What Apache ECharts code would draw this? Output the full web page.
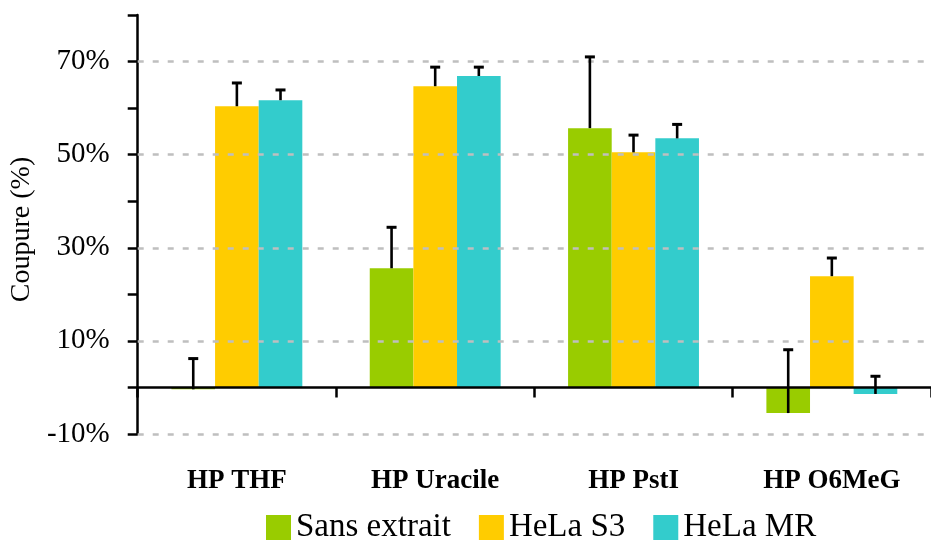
<!DOCTYPE html>
<html>
<head>
<meta charset="utf-8">
<script src="https://cdn.jsdelivr.net/npm/echarts@6/dist/echarts.min.js"></script>
<style>
html,body{margin:0;padding:0;background:#fff;}
#chart{width:931px;height:542px;}
</style>
</head>
<body>
<div id="chart"></div>
<script>
const categories = ['HP THF', 'HP Uracile', 'HP PstI', 'HP O6MeG'];
const seriesNames = ['Sans extrait', 'HeLa S3', 'HeLa MR'];
const sansExtrait = [-0.4, 25.6, 55.7, -5.5];
const helaS3 = [60.4, 64.7, 50.5, 23.9];
const helaMR = [61.7, 66.9, 53.5, -1.4];
const errSans = [6.6, 8.8, 15.3, 13.6];
const errS3 = [5.0, 4.1, 3.7, 3.9];
const errMR = [2.2, 1.9, 3.0, 3.8];
const gridValues = [-10, 10, 30, 50, 70];
const colors = ['#99cc00', '#ffcc00', '#33cccc'];

const FONT = '"Liberation Serif", "DejaVu Serif", serif';
const values = [sansExtrait, helaS3, helaMR];
const errors = [errSans, errS3, errMR];
const BAR_FRAC = 0.22;

function errRender(k) {
  return function (params, api) {
    const i = api.value(0), v = api.value(1), e = api.value(2);
    const band = api.size([1, 0])[0];
    const off = (k - 1) * band * BAR_FRAC;
    const p0 = api.coord([i, v]);
    const p1 = api.coord([i, v + e]);
    const x = p0[0] + off;
    const st = { stroke: '#000', lineWidth: 2.6 };
    return {
      type: 'group',
      children: [
        { type: 'line', shape: { x1: x, y1: p0[1], x2: x, y2: p1[1] }, style: st },
        { type: 'line', shape: { x1: x - 5, y1: p1[1], x2: x + 5, y2: p1[1] }, style: { stroke: '#000', lineWidth: 3 } }
      ]
    };
  };
}

const series = [];
// gridlines
series.push({
  type: 'line', data: [], z: 1, silent: true,
  markLine: {
    silent: true, symbol: ['none', 'none'], label: { show: false },
    lineStyle: { color: '#bfbfbf', type: [6, 9], width: 2.5 },
    data: gridValues.map(v => ({ yAxis: v }))
  }
});
values.forEach((arr, k) => {
  series.push({
    name: seriesNames[k], type: 'bar', xAxisIndex: 0, z: 2,
    barWidth: (BAR_FRAC * 100) + '%', barGap: '0%',
    itemStyle: { color: colors[k] },
    data: arr
  });
});
values.forEach((arr, k) => {
  series.push({
    name: seriesNames[k] + ' err', type: 'custom', xAxisIndex: 0, z: 5,
    renderItem: errRender(k),
    data: arr.map((v, i) => [i, v, errors[k][i]])
  });
});

const chart = echarts.init(document.getElementById('chart'));
chart.setOption({
  animation: false,
  grid: { left: 136, right: -5, top: 15, bottom: 108 },
  legend: {
    data: seriesNames, left: 266, top: 511, padding: 0,
    icon: 'rect', itemWidth: 25, itemHeight: 25, itemGap: 28,
    textStyle: { fontFamily: FONT, fontSize: 33, color: '#000' }
  },
  xAxis: [{
    type: 'category', data: categories, position: 'bottom', z: 3,
    axisLine: { onZero: true, lineStyle: { color: '#000', width: 2.5 } },
    axisTick: { show: true, length: 10, alignWithLabel: false, lineStyle: { color: '#000', width: 2.5 } },
    axisLabel: { show: false },
    splitLine: { show: false }
  }, {
    type: 'category', data: categories, position: 'bottom',
    axisLine: { show: false, onZero: false },
    axisTick: { show: false },
    axisLabel: { show: true, margin: 34, fontFamily: FONT, fontSize: 27, fontWeight: 'bold', color: '#000' },
    splitLine: { show: false }
  }],
  yAxis: {
    type: 'value', min: -10, max: 80, interval: 10,
    name: 'Coupure (%)', nameLocation: 'middle', nameGap: 97,
    nameTextStyle: { fontFamily: FONT, fontSize: 28, color: '#000', padding: [0, 0, 0, -10] },
    axisLine: { show: true, lineStyle: { color: '#000', width: 2.5 } },
    axisTick: { show: true, length: 10, lineStyle: { color: '#000', width: 2.5 } },
    axisLabel: {
      margin: 28, fontFamily: FONT, fontSize: 29, color: '#000',
      formatter: v => (Math.abs(Math.round(v / 10)) % 2 === 1 ? v + '%' : '')
    },
    splitLine: { show: false }
  },
  series: series
});
</script>
</body>
</html>
